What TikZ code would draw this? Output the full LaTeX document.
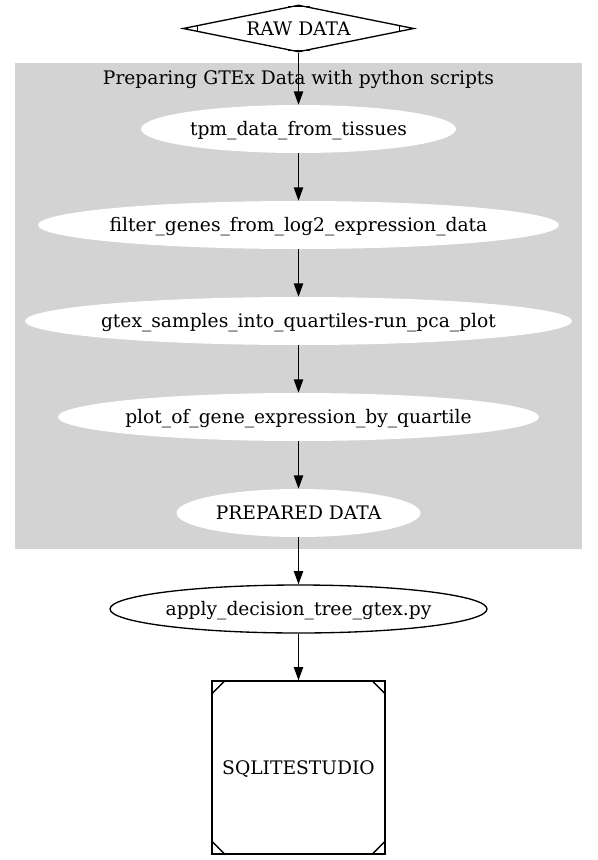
\documentclass[tikz,border=0pt]{standalone}
\usepackage{fontspec}
\setmainfont{DejaVu Serif}
\usetikzlibrary{shapes.geometric,arrows.meta,calc}
\definecolor{clustergray}{HTML}{D3D3D3}
\begin{document}
\begin{tikzpicture}[x=0.75pt,y=-0.75pt,
  lbl/.style={font=\fontsize{14pt}{16pt}\selectfont, inner sep=0pt, text height=10.2pt, text depth=0pt},
  ell/.style={ellipse, inner sep=0pt, minimum height=36pt},
  wellipse/.style={ell, fill=white},
  bellipse/.style={ell, draw=black, fill=white, line width=1pt},
  edge/.style={draw, line width=1pt, -{Triangle[length=10pt,width=7pt]}},
  cornertick/.style={draw, line width=1pt},
]
\useasboundingbox (0,0) rectangle (597,860);
\fill[white] (0,0) rectangle (597,860);
\fill[clustergray] (15,63) rectangle (582,549);
\node[lbl] (clab) at (298.5,78) {Preparing GTEx Data with python scripts};

% RAW DATA (Mdiamond)
\node[diamond, draw, fill=white, line width=1pt, inner sep=0pt,
      minimum width=173.25pt, minimum height=35.25pt] (raw) at (298.5,28.5) {};
\node[lbl] at (raw) {RAW DATA};
\path[cornertick] ($(raw.west)+(15,-3)$) -- ($(raw.west)+(15,3)$);
\path[cornertick] ($(raw.east)+(-15,-3)$) -- ($(raw.east)+(-15,3)$);
\path[cornertick] ($(raw.north)+(-11,2.3)$) -- ($(raw.north)+(11,2.3)$);
\path[cornertick] ($(raw.south)+(-11,-2.5)$) -- ($(raw.south)+(11,-2.5)$);

% cluster nodes
\node[wellipse, minimum width=236.25pt] (tpm) at (298.5,129) {};
\node[lbl] at (tpm) {tpm\_data\_from\_tissues};
\node[wellipse, minimum width=390.75pt] (filt) at (298.5,225) {};
\node[lbl] at (filt) {filter\_genes\_from\_log2\_expression\_data};
\node[wellipse, minimum width=410.25pt] (gtex) at (298.5,321) {};
\node[lbl] at (gtex) {gtex\_samples\_into\_quartiles-run\_pca\_plot};
\node[wellipse, minimum width=360.75pt] (plot) at (298.5,417) {};
\node[lbl] at (plot) {plot\_of\_gene\_expression\_by\_quartile};
\node[wellipse, minimum width=183pt] (prep) at (298.5,513) {};
\node[lbl] at (prep) {PREPARED DATA};

% apply
\node[bellipse, minimum width=282.75pt] (apply) at (298.5,609) {};
\node[lbl] at (apply) {apply\_decision\_tree\_gtex.py};

% SQLITESTUDIO (Msquare)
\node[rectangle, draw, fill=white, line width=1pt, inner sep=0pt, minimum size=129.75pt] (sq) at (298.5,767.5) {};
\node[lbl] at (sq) {SQLITESTUDIO};
\path[cornertick] ($(sq.north west)+(0,14)$) -- ($(sq.north west)+(14,0)$);
\path[cornertick] ($(sq.north east)+(0,14)$) -- ($(sq.north east)+(-14,0)$);
\path[cornertick] ($(sq.south west)+(0,-14)$) -- ($(sq.south west)+(14,0)$);
\path[cornertick] ($(sq.south east)+(0,-14)$) -- ($(sq.south east)+(-14,0)$);

% edges
\path[edge] (raw) -- (tpm);
\path[edge] (tpm) -- (filt);
\path[edge] (filt) -- (gtex);
\path[edge] (gtex) -- (plot);
\path[edge] (plot) -- (prep);
\path[edge] (prep) -- (apply);
\path[edge] (apply) -- (sq);
\end{tikzpicture}
\end{document}
